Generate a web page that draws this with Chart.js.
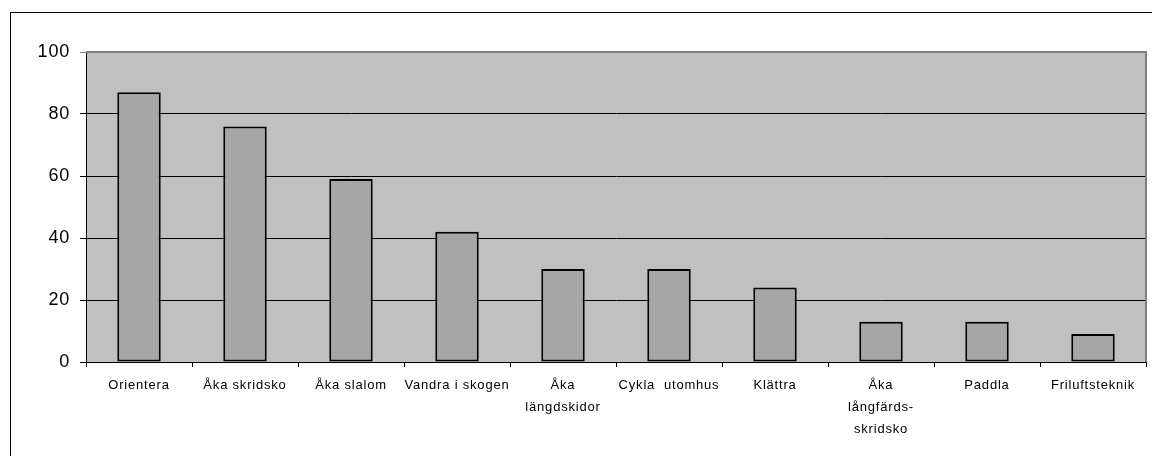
<!DOCTYPE html>
<html>
<head>
<meta charset="utf-8">
<script src="https://cdn.jsdelivr.net/npm/chart.js@4"></script>
<style>
  html, body { margin: 0; padding: 0; background: #fff; overflow: hidden; }
  #wrap { position: relative; width: 1152px; height: 456px; overflow: hidden; }
  #frame { position: absolute; left: 10px; top: 12px; width: 1300px; height: 600px; border: 1px solid #000; }
  #chart { position: absolute; left: 0; top: 0; }
</style>
</head>
<body>
<div id="wrap">
  <div id="frame"></div>
  <canvas id="chart"></canvas>
</div>
<script>
// kategorier och värden
const categories = [
  "Orientera",
  "Åka skridsko",
  "Åka slalom",
  "Vandra i skogen",
  ["Åka", "längdskidor"],
  "Cykla  utomhus",
  "Klättra",
  ["Åka", "långfärds-", "skridsko"],
  "Paddla",
  "Friluftsteknik",
];
const values = [87, 76, 59, 42, 30, 30, 24, 13, 13, 9];
const yTicks = [0, 20, 40, 60, 80, 100];

const canvas = document.querySelector("#chart");
canvas.width = 1152;
canvas.height = 456;
const ctx = canvas.getContext("2d");

// grå bakgrund i ritytan + kantlinjer
const plotArea = {
  id: "plotArea",
  beforeDraw(chart) {
    const c = chart.ctx;
    const a = chart.chartArea;
    c.save();
    c.fillStyle = "#c0c0c0";
    c.fillRect(a.left, a.top, a.right - a.left, a.bottom - a.top);
    c.restore();
    c.letterSpacing = "0.8px";
  },
  afterDraw(chart) {
    const c = chart.ctx;
    const a = chart.chartArea;
    c.save();
    c.strokeStyle = "#808080";
    c.lineWidth = 2;
    c.beginPath();
    c.moveTo(a.left, a.top);
    c.lineTo(a.right, a.top);
    c.lineTo(a.right, a.bottom);
    c.stroke();
    c.restore();
  },
};

new Chart(ctx, {
  type: "bar",
  data: {
    labels: categories,
    datasets: [
      {
        data: values,
        backgroundColor: "#a6a6a6",
        borderColor: "#000000",
        borderWidth: 2,
        borderSkipped: false,
        categoryPercentage: 1.0,
        barPercentage: 0.41,
      },
    ],
  },
  options: {
    responsive: false,
    animation: false,
    layout: { padding: { top: 52, left: 0, right: 6, bottom: 0 } },
    plugins: { legend: { display: false }, tooltip: { enabled: false } },
    scales: {
      x: {
        afterFit: (s) => { s.height = 94; },
        grid: {
          offset: true,
          drawOnChartArea: false,
          color: "#000",
          tickLength: 5,
        },
        border: { color: "#000", width: 1 },
        ticks: {
          autoSkip: false,
          maxRotation: 0,
          minRotation: 0,
          padding: 7,
          color: "#000",
          font: { family: "Liberation Sans", size: 13, lineHeight: 1.7 },
        },
      },
      y: {
        min: 0,
        max: 100,
        afterFit: (s) => { s.width = 86; },
        afterBuildTicks: (s) => { s.ticks = yTicks.map((v) => ({ value: v })); },
        grid: {
          color: (c) => (c.tick && c.tick.value === 100 ? "#808080" : "#000"),
          lineWidth: 1,
          tickLength: 6,
        },
        border: { color: "#000", width: 1 },
        ticks: {
          padding: 10,
          color: "#000",
          font: { family: "Liberation Sans", size: 18 },
        },
      },
    },
  },
  plugins: [plotArea],
});
</script>
</body>
</html>
